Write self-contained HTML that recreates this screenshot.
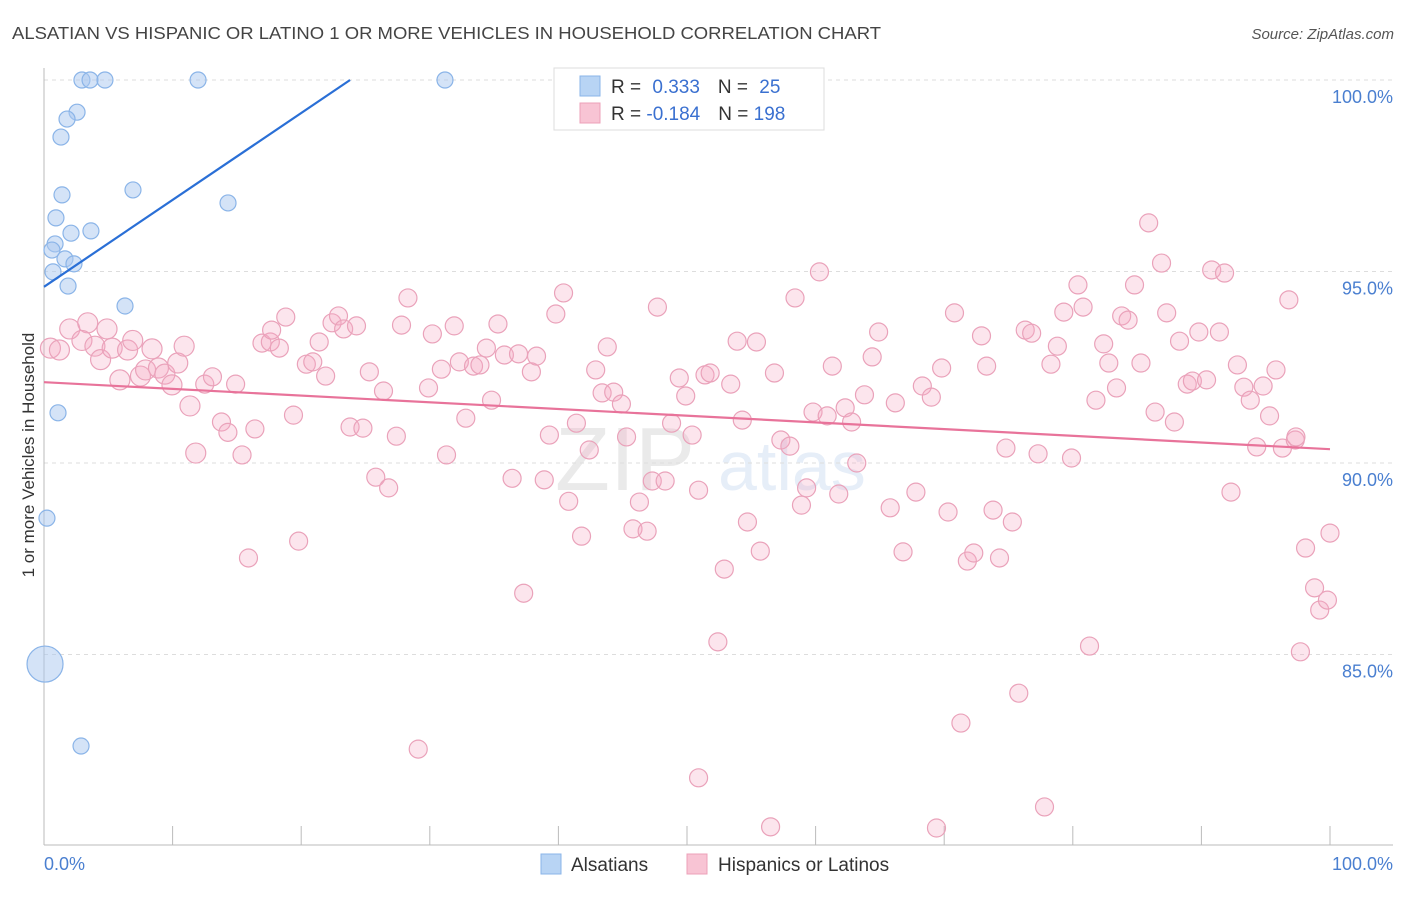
<!DOCTYPE html>
<html><head><meta charset="utf-8"><style>
body{margin:0;background:#fff;font-family:"Liberation Sans",sans-serif;}
svg text{font-family:"Liberation Sans",sans-serif;}
</style></head><body>
<svg id="chart" width="1406" height="892" xmlns="http://www.w3.org/2000/svg">
<text x="12" y="39" font-size="17.5" fill="#444" textLength="869" lengthAdjust="spacingAndGlyphs">ALSATIAN VS HISPANIC OR LATINO 1 OR MORE VEHICLES IN HOUSEHOLD CORRELATION CHART</text>
<text x="1394" y="39" font-size="15" fill="#555" font-style="italic" text-anchor="end">Source: ZipAtlas.com</text>
<g opacity="0.13">
<text x="555" y="490" font-size="90" font-family="Liberation Serif" fill="#666">ZIP</text>
<text x="718" y="490" font-size="70" fill="#4a7fd0">atlas</text>
</g>
<g id="grid"></g>
<g id="axes"></g>
<g id="pink"></g>
<g id="blue"></g>
<g id="lines"></g>
<text transform="translate(34,455) rotate(-90)" font-size="17" fill="#333" text-anchor="middle">1 or more Vehicles in Household</text>
<g>
<rect x="554" y="68" width="270" height="62" fill="#fff" stroke="#ddd"/>
<rect x="580" y="76" width="20" height="20" fill="#b8d4f4" stroke="#8ab4e8"/>
<rect x="580" y="103" width="20" height="20" fill="#f8c4d4" stroke="#eca0b8"/>
<text x="611" y="93" font-size="19" fill="#333">R = <tspan fill="#3a70d0" dx="6">0.333</tspan><tspan dx="18" fill="#333">N = </tspan><tspan dx="6" fill="#3a70d0">25</tspan></text>
<text x="611" y="120" font-size="19" fill="#333">R = <tspan fill="#3a70d0">-0.184</tspan><tspan dx="18" fill="#333">N = </tspan><tspan fill="#3a70d0">198</tspan></text>
</g>
<g>
<rect x="541" y="854" width="20" height="20" fill="#b8d4f4" stroke="#8ab4e8"/>
<text x="571" y="871" font-size="19" fill="#333">Alsatians</text>
<rect x="687" y="854" width="20" height="20" fill="#f8c4d4" stroke="#eca0b8"/>
<text x="718" y="871" font-size="19" fill="#333">Hispanics or Latinos</text>
</g>
</svg>
<script>
const yTicks=[100,95,90,85];
const yTickLabels=["100.0%","95.0%","90.0%","85.0%"];
const blueX=[2.95,3.58,4.74,11.98,31.18,2.57,1.79,1.32,1.40,6.92,14.31,0.93,2.10,3.65,0.86,0.62,1.63,2.33,0.70,1.87,6.30,1.09,0.23,0.08,2.88];
const blueY=[100,100,100,100,100,99.16,98.98,98.51,97.0,97.13,96.79,96.40,96.0,96.06,95.72,95.56,95.33,95.2,94.99,94.62,94.10,91.31,88.56,84.75,82.61];
const pinkX=[0.5,1.2,2.0,3.4,2.95,3.96,4.4,4.9,5.3,5.9,6.5,6.9,7.5,7.9,8.4,8.9,9.4,9.95,10.4,10.9,11.35,11.8,12.5,13.1,13.8,14.3,14.9,15.4,15.9,16.4,16.95,17.6,17.7,18.3,18.8,19.4,19.8,20.4,20.9,21.4,21.9,22.4,22.9,23.3,23.8,24.3,24.8,25.3,25.8,26.4,26.8,27.4,27.8,28.3,29.9,30.2,30.9,31.3,31.9,32.3,32.8,33.4,33.9,34.4,34.8,35.3,35.8,36.4,36.9,37.3,37.9,38.3,38.9,39.3,39.8,40.4,40.8,41.4,41.8,42.4,42.9,43.4,43.8,44.3,44.9,45.3,45.8,46.3,46.9,47.3,47.7,48.3,48.8,49.4,49.9,50.4,50.9,51.4,51.8,52.4,52.9,53.4,53.9,54.3,54.7,55.4,55.7,56.5,56.8,57.3,58.0,58.4,58.9,59.3,59.8,60.3,60.9,61.3,61.8,62.3,62.8,63.2,63.8,64.4,64.9,65.8,66.2,66.8,67.8,68.3,69.0,69.4,69.8,70.3,70.8,71.3,71.8,72.3,72.9,73.3,73.8,74.3,74.8,75.3,75.8,76.3,76.8,77.3,77.8,78.3,78.8,79.3,79.9,80.4,80.8,81.3,81.8,82.4,82.8,83.4,83.8,84.3,84.8,85.3,85.9,86.4,86.9,87.3,87.9,88.3,88.9,89.3,89.8,90.4,90.8,91.4,91.8,92.3,92.8,93.3,93.8,94.3,94.8,95.3,95.8,96.3,96.8,97.3,97.7,98.1,98.8,99.2,99.8,100,97.35,29.1,50.9];
const pinkY=[93.0,92.95,93.5,93.66,93.2,93.05,92.7,93.5,93.0,92.17,92.95,93.2,92.27,92.43,92.98,92.48,92.32,92.04,92.61,93.05,91.49,90.26,92.06,92.25,91.07,90.8,92.06,90.21,87.52,90.89,93.13,93.16,93.47,93.0,93.81,91.25,87.96,92.58,92.64,93.16,92.27,93.66,93.84,93.5,90.94,93.58,90.91,92.38,89.63,91.88,89.35,90.7,93.6,94.31,91.96,93.37,92.45,90.21,93.58,92.64,91.17,92.53,92.56,93.0,91.64,93.63,92.82,89.6,92.85,86.6,92.38,92.79,89.56,90.73,93.89,94.44,89.0,91.04,88.09,90.34,92.43,91.83,93.03,91.85,91.54,90.68,88.28,88.98,88.22,89.53,94.07,89.53,91.04,92.22,91.75,90.73,89.29,92.3,92.35,85.33,87.23,92.06,93.18,91.12,88.46,93.16,87.7,80.5,92.35,90.6,90.44,94.31,88.9,89.35,91.33,94.99,91.23,92.53,89.19,91.44,91.07,90.0,91.78,92.77,93.42,88.83,91.57,87.68,89.24,92.01,91.72,80.47,92.48,88.72,93.92,83.21,87.44,87.65,93.32,92.53,88.77,87.52,90.39,88.46,83.99,93.47,93.39,90.24,81.02,92.58,93.05,93.94,90.13,94.65,94.07,85.22,91.64,93.11,92.61,91.96,93.84,93.73,94.65,92.61,96.27,91.33,95.22,93.92,91.07,93.18,92.06,92.14,93.42,92.17,95.04,93.42,94.96,89.24,92.56,91.98,91.64,90.42,92.01,91.23,92.43,90.39,94.26,90.6,85.07,87.78,86.74,86.16,86.42,88.17,90.68,82.53,81.78];
const blueTrend=[0,94.6,23.8,100];
const pinkTrend=[0,92.11,100,90.36];
const NS="http://www.w3.org/2000/svg";
const X0=44,X1=1330,Y100=80,PX=38.3;
function sx(v){return X0+(X1-X0)*v/100;}
function sy(v){return Y100+(100-v)*PX;}
function mk(t,a,p){const e=document.createElementNS(NS,t);for(const k in a)e.setAttribute(k,a[k]);p.appendChild(e);return e;}
const grid=document.getElementById('grid');
yTicks.forEach((t,i)=>{
 const l=mk('line',{x1:X0,x2:1393,y1:sy(t),y2:sy(t),stroke:'#ddd','stroke-dasharray':'4,4'},grid);
 
 
 const tx=mk('text',{x:1393,y:sy(t)+23,'font-size':18,fill:'#4a7fd0','text-anchor':'end'},grid);
 tx.textContent=yTickLabels[i];
 
 
});
const axes=document.getElementById('axes');
mk('line',{x1:X0,x2:X0,y1:68,y2:845,stroke:'#bbb'},axes);
mk('line',{x1:X0,x2:1393,y1:845,y2:845,stroke:'#bbb'},axes);
for(let i=1;i<=10;i++){mk('line',{x1:sx(i*10),x2:sx(i*10),y1:826,y2:845,stroke:'#bbb'},axes);}
let t0=mk('text',{x:44,y:870,'font-size':18,fill:'#4a7fd0'},axes);t0.textContent="0.0%";


let t1=mk('text',{x:1393,y:870,'font-size':18,fill:'#4a7fd0','text-anchor':'end'},axes);t1.textContent="100.0%";


const pink=document.getElementById('pink');
pinkX.forEach((x,i)=>{
 const r=x<12?10:9;
 const c=mk('circle',{cx:sx(x),cy:sy(pinkY[i]),r:r,fill:'rgba(244,170,196,0.3)',stroke:'#eaa2ba','stroke-width':1.2},pink);
 
 
});
const blue=document.getElementById('blue');
blueX.forEach((x,i)=>{
 const r=(i===23)?18:8;
 const c=mk('circle',{cx:sx(x),cy:sy(blueY[i]),r:r,fill:'rgba(170,200,240,0.5)',stroke:'#8ab4e8','stroke-width':1.2},blue);
 
 
});
const lines=document.getElementById('lines');
const bl=mk('line',{x1:sx(blueTrend[0]),y1:sy(blueTrend[1]),x2:sx(blueTrend[2]),y2:sy(blueTrend[3]),stroke:'#2a6fd6','stroke-width':2.2},lines);


const pl=mk('line',{x1:sx(pinkTrend[0]),y1:sy(pinkTrend[1]),x2:sx(pinkTrend[2]),y2:sy(pinkTrend[3]),stroke:'#e8739a','stroke-width':2.2},lines);


</script>
</body></html>
